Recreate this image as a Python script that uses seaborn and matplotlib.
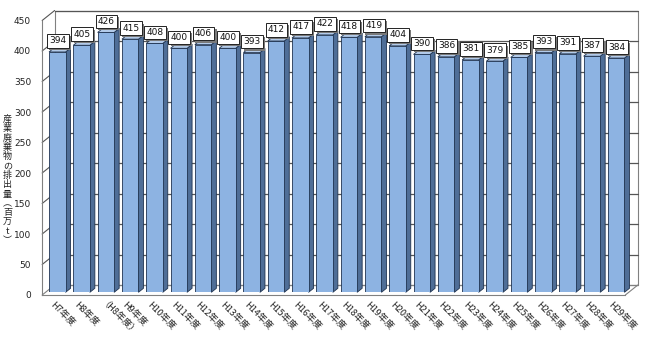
import numpy as np
import pandas as pd
import matplotlib
matplotlib.use("Agg")
import matplotlib.pyplot as plt
import seaborn as sns
from matplotlib import patheffects as pe
from matplotlib.patches import Polygon, Rectangle
from matplotlib.lines import Line2D
from matplotlib.transforms import IdentityTransform, ScaledTranslation

# ---- data ----
categories = ["H7年度", "H8年度", "（H8年度）", "H9年度", "H10年度", "H11年度", "H12年度",
              "H13年度", "H14年度", "H15年度", "H16年度", "H17年度", "H18年度", "H19年度",
              "H20年度", "H21年度", "H22年度", "H23年度", "H24年度", "H25年度", "H26年度",
              "H27年度", "H28年度", "H29年度"]
values = [394, 405, 426, 415, 408, 400, 406, 400, 393, 412, 417, 422, 418, 419,
          404, 390, 386, 381, 379, 385, 393, 391, 387, 384]
yticks = [0, 50, 100, 150, 200, 250, 300, 350, 400, 450]
ylabel = "産業廃棄物の排出量︵百万t︶"

# ---- style ----
FRONT = "#8DB3E2"
SIDE = "#4F6E97"
TOP = "#B3CBEA"
EDGE = "#1F3350"
GRAY = "#808080"
GRID = "#555555"

sns.set_theme(style="white")
plt.rcParams["font.family"] = ["Noto Sans CJK JP", "DejaVu Sans"]

W, H = 650, 340
fig = plt.figure(figsize=(W / 100, H / 100), dpi=100)
fig.patch.set_facecolor("white")

L = 45.15
B = 340 - 292.3
AW = 24.3 * 24
AH = 274.5
ax = fig.add_axes([L / W, B / H, AW / W, AH / H])
df = pd.DataFrame({"cat": categories, "val": values})
sns.barplot(data=df, x="cat", y="val", color=FRONT, saturation=1, width=0.68,
            edgecolor=EDGE, linewidth=0.6, ax=ax, zorder=3)
bars = [p for p in ax.patches if isinstance(p, Rectangle)]
ax.set_xlim(-0.5, len(categories) - 0.5)
ax.set_ylim(0, 450)
ax.axis("off")

# front plane axes (ticks and labels)
FX, FY = -3.0, -2.7
axf = fig.add_axes([(L + FX) / W, (B + FY) / H, AW / W, AH / H])
axf.set_xlim(-0.5, len(categories) - 0.5)
axf.set_ylim(0, 450)
axf.patch.set_visible(False)
for s in ["top", "right"]:
    axf.spines[s].set_visible(False)
for s in ["left", "bottom"]:
    axf.spines[s].set_color(GRAY)
    axf.spines[s].set_linewidth(0.8)
axf.set_yticks(yticks)
axf.set_yticklabels([str(t) for t in yticks], fontsize=6.5, family="DejaVu Sans", color="#222222")
axf.set_xticks(range(len(categories)))
axf.set_xticklabels(categories, rotation=-45, ha="left", va="top",
                    rotation_mode="anchor", fontsize=6.6, color="#222222")
shift = ScaledTranslation(4 / 100, -1 / 100, fig.dpi_scale_trans)
for lab in axf.get_xticklabels():
    lab.set_transform(lab.get_transform() + shift)
axf.set_xticks(np.arange(-0.5, len(categories), 1), minor=True)
axf.tick_params(axis="x", which="major", length=0, pad=4)
axf.tick_params(axis="x", which="minor", length=3, color=GRAY, width=0.8, direction="out")
axf.tick_params(axis="y", length=3, color=GRAY, width=0.8, pad=5, direction="out")

fig.text(7.5 / W, 1 - 180 / H, "\n".join(ylabel), ha="center", va="center",
         rotation=0, fontsize=6.5, linespacing=1.05, color="#222222")

# ---- pseudo 3D frame ----
BX, BY = 9.5, 7.3
n = len(categories)


def P(x, y, dx=0.0, dy=0.0):
    X, Y = ax.transData.transform((x, y))
    return (X + dx, Y + dy)


def poly(pts, fc, ec, lw, z):
    p = Polygon(pts, closed=True, facecolor=fc, edgecolor=ec, linewidth=lw,
                transform=IdentityTransform(), clip_on=False, zorder=z)
    ax.add_patch(p)


def line(p1, p2, c, lw, z):
    l = Line2D([p1[0], p2[0]], [p1[1], p2[1]], color=c, linewidth=lw,
               transform=IdentityTransform(), clip_on=False, zorder=z)
    ax.add_line(l)


xl, xr = -0.5, n - 0.5
poly([P(xl, 0, BX, BY), P(xr, 0, BX, BY), P(xr, 450, BX, BY), P(xl, 450, BX, BY)],
     "white", GRAY, 0.8, 0.5)
for v in yticks:
    line(P(xl, v, BX, BY), P(xr, v, BX, BY), GRID if v > 0 else GRAY, 0.9, 0.8)
    line(P(xl, v, FX, FY), P(xl, v, BX, BY), GRID if v > 0 else GRAY, 0.8, 0.8)
line(P(xr, 0, FX, FY), P(xr, 0, BX, BY), GRAY, 0.8, 0.8)

# bar side/top faces
DX, DY = 5.0, 4.0
for p in bars:
    x0, w, h = p.get_x(), p.get_width(), p.get_height()
    poly([P(x0 + w, 0), P(x0 + w, h), P(x0 + w, h, DX, DY), P(x0 + w, 0, DX, DY)],
         SIDE, EDGE, 0.6, 2.9)
    poly([P(x0, h), P(x0 + w, h), P(x0 + w, h, DX, DY), P(x0, h, DX, DY)],
         TOP, EDGE, 0.6, 2.9)

# value labels (box with drop shadow)
for i, v in enumerate(values):
    t = ax.annotate(str(v), xy=(i, v), xytext=(0.5, 11), textcoords="offset pixels",
                    ha="center", va="center", fontsize=6.5, family="DejaVu Sans",
                    color="#111111",
                    bbox=dict(boxstyle="square,pad=0.25", fc="white", ec="#222222", lw=0.7),
                    zorder=6, annotation_clip=False)
    t.get_bbox_patch().set_path_effects(
        [pe.SimplePatchShadow(offset=(1.6, -1.6), shadow_rgbFace="#7a7a7a", alpha=1.0),
         pe.Normal()])

fig.savefig("out.png", dpi=100, facecolor="white")
